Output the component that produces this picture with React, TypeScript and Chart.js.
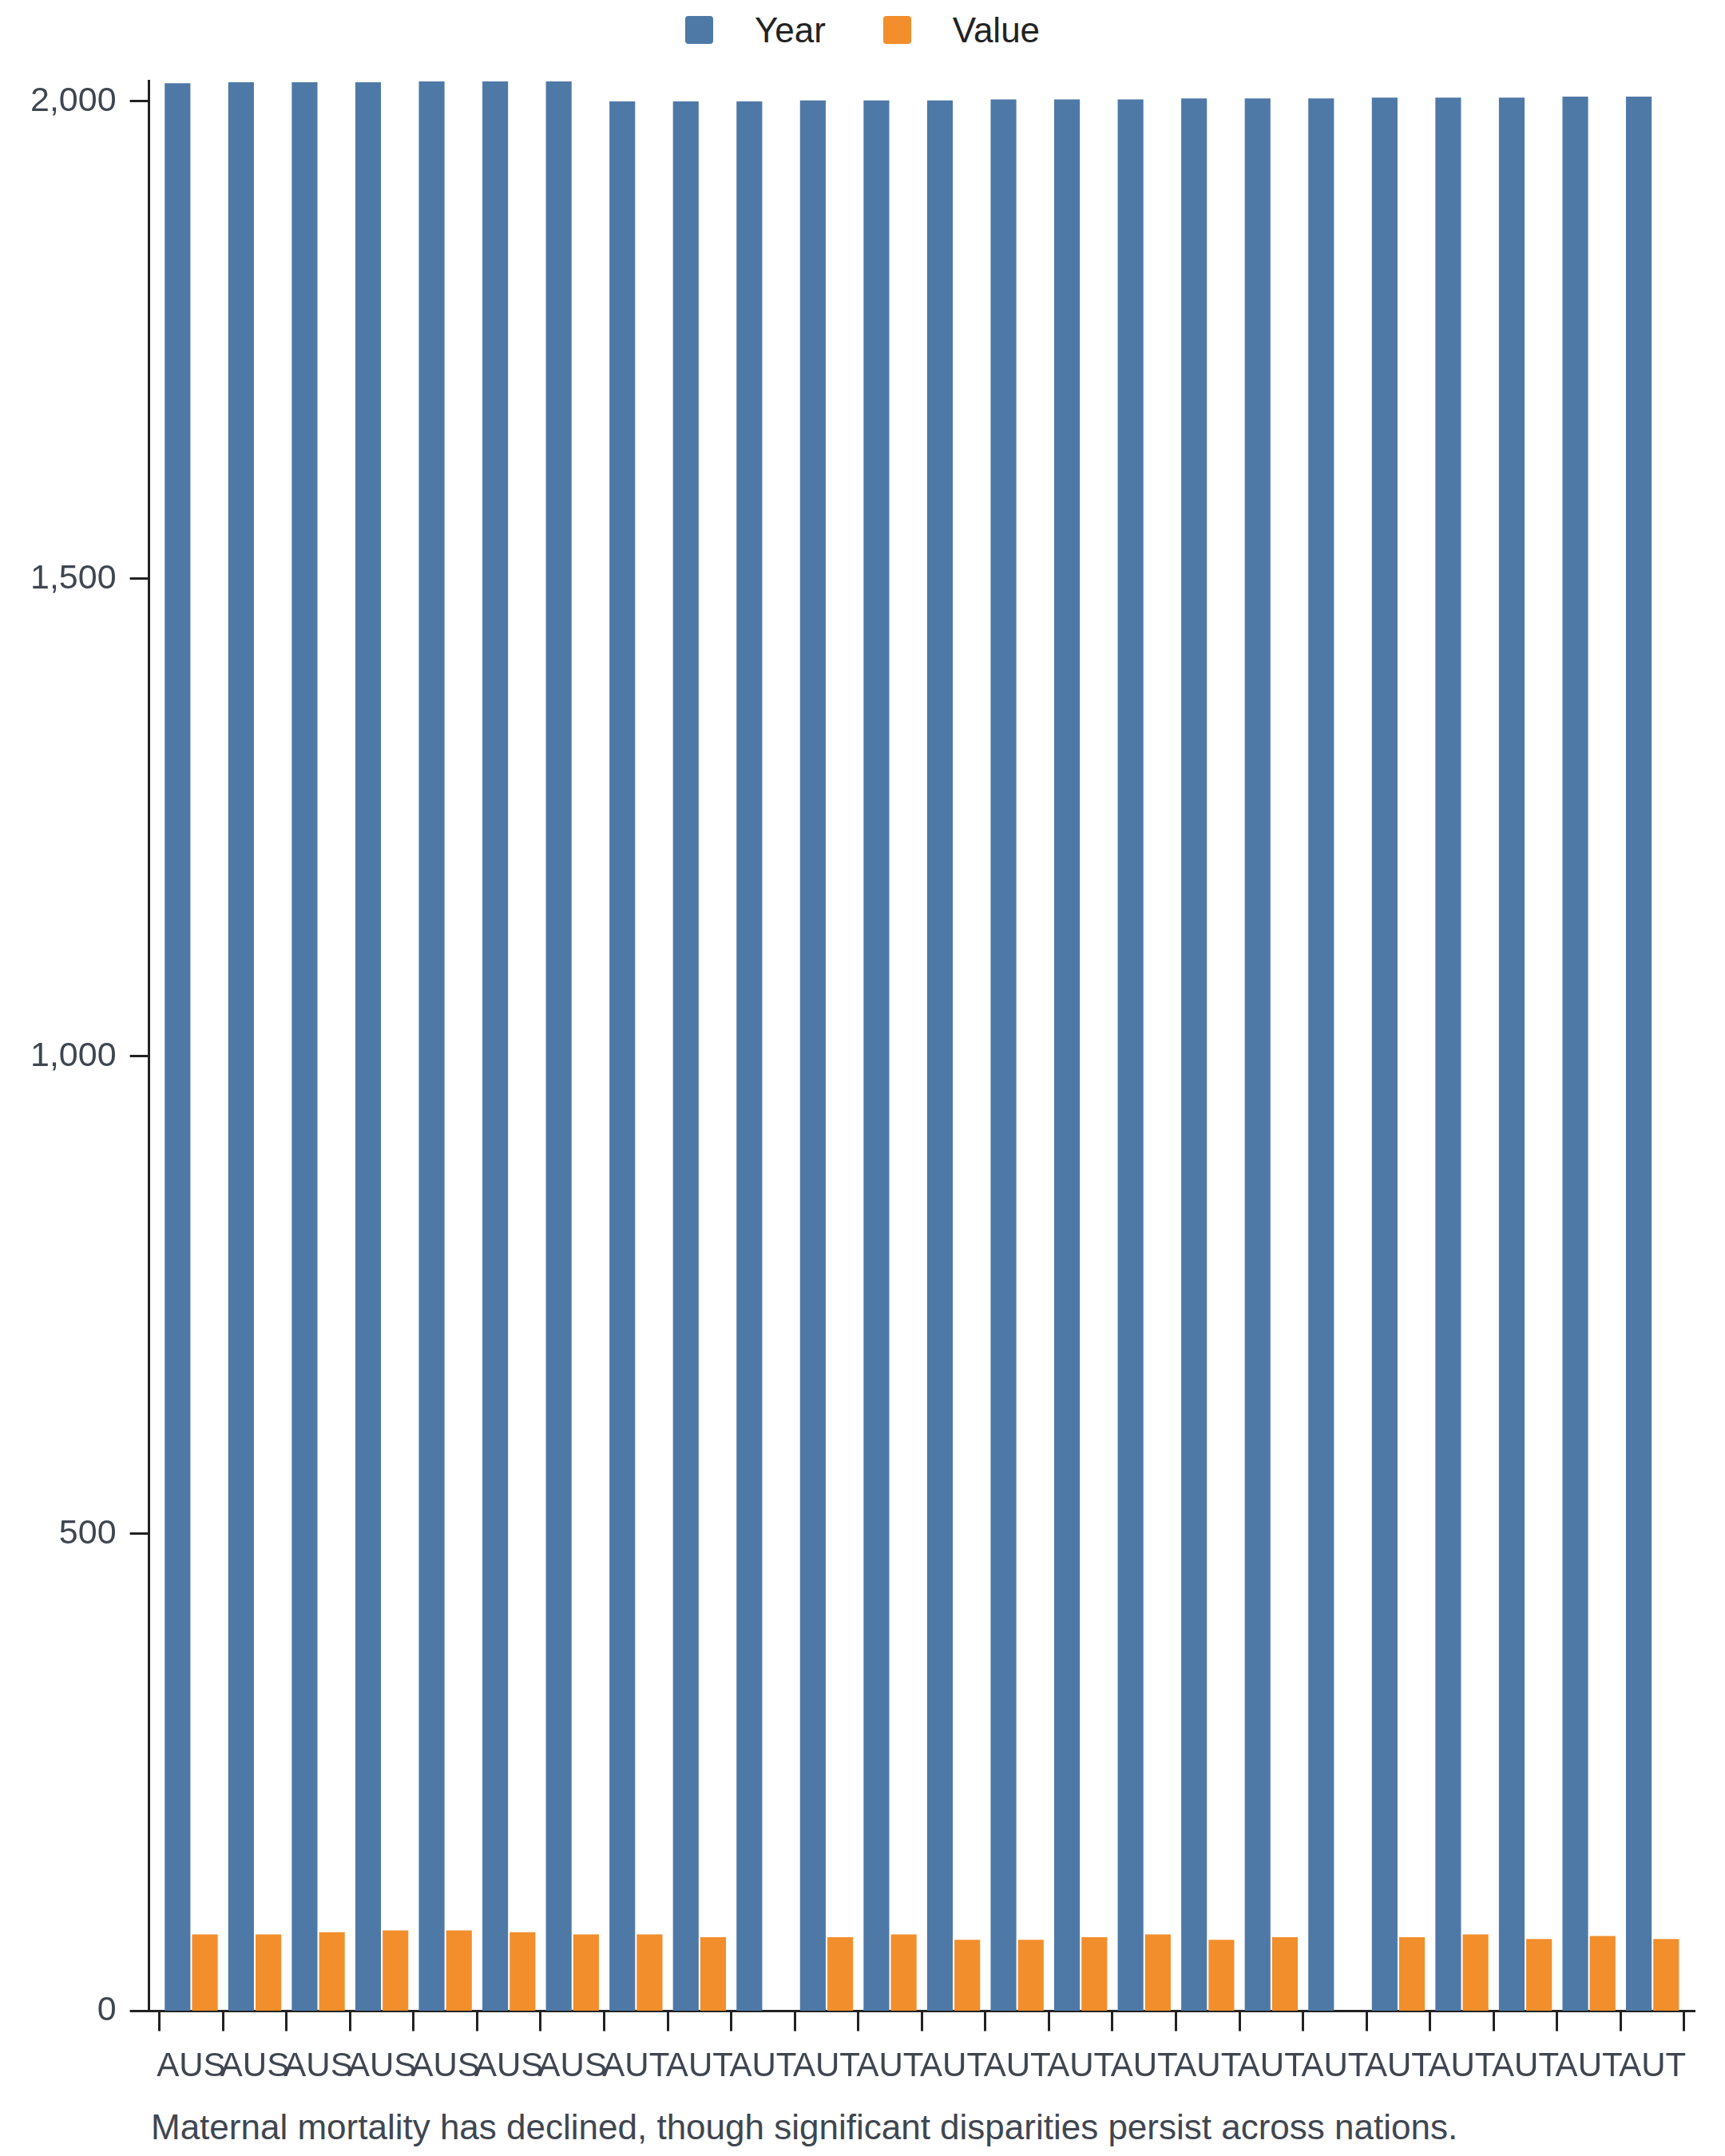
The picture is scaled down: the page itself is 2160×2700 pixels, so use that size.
import { useEffect, useRef } from "react";
import { Chart, registerables } from "chart.js";

Chart.register(...registerables);

const countries = [
  "AUS", "AUS", "AUS", "AUS", "AUS", "AUS", "AUS",
  "AUT", "AUT", "AUT", "AUT", "AUT", "AUT", "AUT", "AUT", "AUT",
  "AUT", "AUT", "AUT", "AUT", "AUT", "AUT", "AUT", "AUT",
];
const yearValues = [
  2019, 2020, 2020, 2020, 2021, 2021, 2021,
  2000, 2000, 2000, 2001, 2001, 2001, 2002, 2002, 2002,
  2003, 2003, 2003, 2004, 2004, 2004, 2005, 2005,
];
const valueValues = [
  80.3, 80.3, 82.6, 84.5, 84.5, 82.6, 80.3,
  80.3, 77.5, null, 77.5, 80.3, 74.7, 74.7, 77.5, 80.3,
  74.7, 77.5, null, 77.5, 80.3, 75.5, 78.6, 75.5,
];
const seriesNames = ["Year", "Value"];
const seriesColors = ["#4e79a7", "#f28e2b"];
const yTicks = [0, 500, 1000, 1500, 2000];
const caption =
  "Maternal mortality has declined, though significant disparities persist across nations.";

const fontFamily = '"Liberation Sans", Arial, Helvetica, sans-serif';
const axisColor = "#222222";
const labelColor = "#3f4650";
// empty space (in categories) between the axes and the first/last band
const bandOuterPad = 0.164;

const App = () => {
  const chartRef = useRef<HTMLCanvasElement | null>(null);

  useEffect(() => {
    if (!chartRef.current) return;
    const ctx = chartRef.current.getContext("2d");
    if (!ctx) return;

    Chart.defaults.font.family = fontFamily;

    const myChart = new Chart(ctx, {
      type: "bar",
      data: {
        labels: countries,
        datasets: [
          {
            label: seriesNames[0],
            data: yearValues,
            backgroundColor: seriesColors[0],
          },
          {
            label: seriesNames[1],
            data: valueValues,
            backgroundColor: seriesColors[1],
          },
        ],
      },
      options: {
        animation: false,
        responsive: true,
        maintainAspectRatio: false,
        layout: { padding: { top: 32, left: 13, right: 30, bottom: 0 } },
        datasets: {
          bar: { categoryPercentage: 0.86, barPercentage: 0.94 },
        },
        plugins: {
          legend: { display: false },
          tooltip: { enabled: false },
        },
        scales: {
          x: {
            offset: true,
            afterBuildTicks: (scale: any) => {
              // widen the band range a little so bands don't touch the y axis
              scale._startValue -= bandOuterPad;
              scale._valueRange += 2 * bandOuterPad;
            },
            grid: {
              offset: true,
              drawOnChartArea: false,
              tickLength: 25,
              tickWidth: 3,
              tickColor: axisColor,
            },
            border: { display: true, color: axisColor, width: 3 },
            ticks: {
              autoSkip: false,
              maxRotation: 0,
              minRotation: 0,
              padding: 20,
              color: labelColor,
              font: { size: 42 },
            },
          },
          y: {
            min: 0,
            max: Math.max(...yearValues),
            afterBuildTicks: (scale) => {
              scale.ticks = yTicks.map((value) => ({ value }));
            },
            grid: {
              drawOnChartArea: false,
              tickLength: 24,
              tickWidth: 3,
              tickColor: axisColor,
            },
            border: { display: true, color: axisColor, width: 3 },
            ticks: {
              padding: 17,
              color: labelColor,
              font: { size: 43 },
            },
          },
        },
      },
    });

    return () => {
      myChart.destroy();
    };
  }, []);

  return (
    <div style={{ fontFamily }}>
      {/* Legend */}
      <div
        style={{
          height: 51,
          paddingTop: 12,
          boxSizing: "border-box",
          display: "flex",
          justifyContent: "center",
          gap: 72,
        }}
      >
        {seriesNames.map((name, i) => (
          <div key={name} style={{ display: "flex", alignItems: "center", height: 35 }}>
            <span
              style={{
                width: 35,
                height: 35,
                borderRadius: 4,
                background: seriesColors[i],
                marginRight: 52,
              }}
            />
            <span style={{ fontSize: 44, lineHeight: "35px", color: axisColor }}>{name}</span>
          </div>
        ))}
      </div>

      {/* Chart Canvas */}
      <div style={{ position: "relative", height: 2575 }}>
        <canvas ref={chartRef}></canvas>
      </div>

      <p
        style={{
          margin: "5px 0 0 181px",
          fontSize: 44,
          color: labelColor,
        }}
      >
        {caption}
      </p>
    </div>
  );
};

export default App;
